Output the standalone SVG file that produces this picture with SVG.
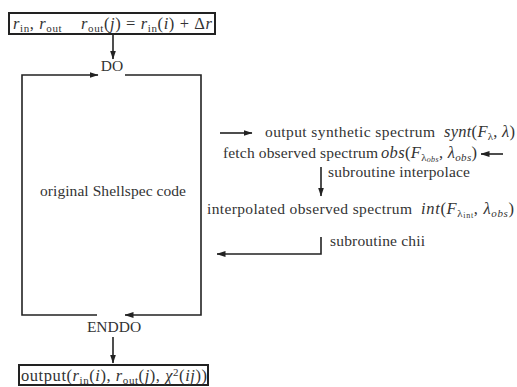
<svg xmlns="http://www.w3.org/2000/svg" width="517" height="387" viewBox="0 0 517 387">
  <style>
    text { font-family: "Liberation Serif", "DejaVu Serif", "Times New Roman", serif; font-size: 15.5px; fill: #333; }
    .m { font-size: 16.5px; }
    .i { font-style: italic; }
    .s { font-size: 11px; }
    .ss { font-size: 8px; }
    .box { fill: #fff; stroke: #222; stroke-width: 2; }
    .ln { fill: none; stroke: #222; stroke-width: 1.6; }
  </style>
  <defs>
    <marker id="ah" markerUnits="userSpaceOnUse" markerWidth="9" markerHeight="6" refX="8.5" refY="3" orient="auto">
      <path d="M0,0 L9,3 L0,6 z" fill="#222"/>
    </marker>
  </defs>

  <!-- input radii -->
  <g id="input">
    <rect class="box" x="9" y="13" width="206" height="21"/>
    <text class="m" x="13" y="29" textLength="199" lengthAdjust="spacing"><tspan class="i">r</tspan><tspan class="s" dy="3">in</tspan><tspan dy="-3">, </tspan><tspan class="i">r</tspan><tspan class="s" dy="3">out</tspan><tspan dy="-3" xml:space="preserve">    </tspan><tspan class="i">r</tspan><tspan class="s" dy="3">out</tspan><tspan dy="-3">(</tspan><tspan class="i">j</tspan><tspan>) = </tspan><tspan class="i">r</tspan><tspan class="s" dy="3">in</tspan><tspan dy="-3">(</tspan><tspan class="i">i</tspan><tspan>) + Δ</tspan><tspan class="i">r</tspan></text>
  </g>

  <g id="do">
    <text x="112" y="71" text-anchor="middle">DO</text>
  </g>

  <g id="shellspec">
    <text x="40" y="196" textLength="146" lengthAdjust="spacing">original Shellspec code</text>
  </g>

  <g id="enddo">
    <text x="114" y="332" text-anchor="middle">ENDDO</text>
  </g>

  <g id="synt">
    <text x="265" y="137" textLength="170" lengthAdjust="spacing">output synthetic spectrum</text>
    <text class="m" x="444" y="137" textLength="71" lengthAdjust="spacing"><tspan class="i">synt</tspan>(<tspan class="i">F</tspan><tspan class="s" dy="3">λ</tspan><tspan dy="-3">, </tspan><tspan class="i">λ</tspan>)</text>
  </g>

  <g id="fetch">
    <text x="223" y="158" textLength="155" lengthAdjust="spacing">fetch observed spectrum</text>
    <text class="m" x="381" y="158" textLength="96" lengthAdjust="spacing"><tspan class="i">obs</tspan>(<tspan class="i">F</tspan><tspan class="s" dy="2.5">λ</tspan><tspan class="ss i" dy="1.5">obs</tspan><tspan dy="-4">, </tspan><tspan class="i">λ</tspan><tspan class="s i" dy="3">obs</tspan><tspan dy="-3">)</tspan></text>
  </g>

  <g id="interpolace">
    <text x="328" y="177" textLength="142" lengthAdjust="spacing">subroutine interpolace</text>
  </g>

  <g id="interpolated">
    <text x="207" y="214" textLength="205" lengthAdjust="spacing">interpolated observed spectrum</text>
    <text class="m" x="421" y="214" textLength="93" lengthAdjust="spacing"><tspan class="i">int</tspan>(<tspan class="i">F</tspan><tspan class="s" dy="2.5">λ</tspan><tspan class="ss" dy="1.5">int</tspan><tspan dy="-4">, </tspan><tspan class="i">λ</tspan><tspan class="s i" dy="3">obs</tspan><tspan dy="-3">)</tspan></text>
  </g>

  <g id="chii">
    <text x="330" y="246" textLength="95" lengthAdjust="spacing">subroutine chii</text>
  </g>

  <!-- result -->
  <g id="output">
    <rect class="box" x="19" y="365" width="189" height="20"/>
    <text class="m" x="21" y="381" textLength="186" lengthAdjust="spacing">output(<tspan class="i">r</tspan><tspan class="s" dy="3">in</tspan><tspan dy="-3">(</tspan><tspan class="i">i</tspan>), <tspan class="i">r</tspan><tspan class="s" dy="3">out</tspan><tspan dy="-3">(</tspan><tspan class="i">j</tspan>), <tspan class="i">χ</tspan><tspan class="s" dy="-5">2</tspan><tspan dy="5">(</tspan><tspan class="i">ij</tspan>))</text>
  </g>

  <g id="connectors">
    <line class="ln" x1="113" y1="34" x2="113" y2="59" marker-end="url(#ah)"/>
    <polyline class="ln" points="97,315 22,315 22,75 98,75" marker-end="url(#ah)"/>
    <polyline class="ln" points="125,75 201,75 201,315 125,315" marker-end="url(#ah)"/>
    <line class="ln" x1="220" y1="133" x2="252" y2="133" marker-end="url(#ah)"/>
    <line class="ln" x1="503" y1="154" x2="481" y2="154" marker-end="url(#ah)"/>
    <line class="ln" x1="321" y1="167" x2="321" y2="196" marker-end="url(#ah)"/>
    <polyline class="ln" points="321,237 321,254 217,254" marker-end="url(#ah)"/>
    <line class="ln" x1="113" y1="337" x2="113" y2="363" marker-end="url(#ah)"/>
  </g>
</svg>
